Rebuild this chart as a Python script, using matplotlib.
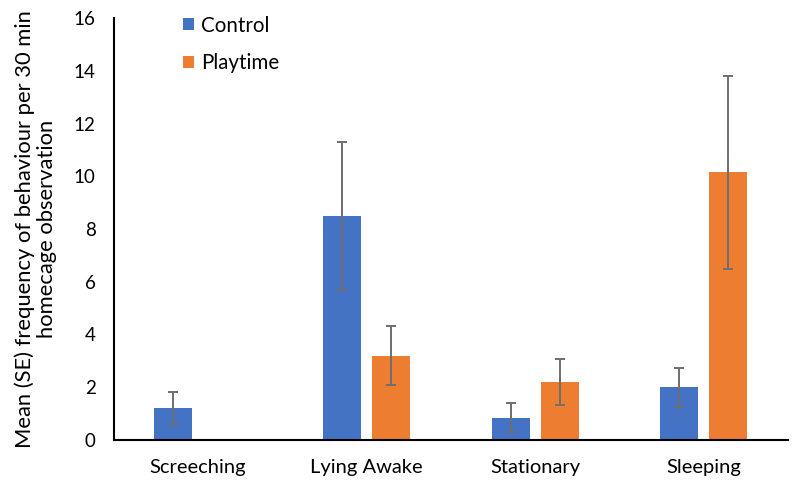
import numpy as np
import matplotlib
matplotlib.use("Agg")
import matplotlib.pyplot as plt

categories = ["Screeching", "Lying Awake", "Stationary", "Sleeping"]
control = [1.2, 8.5, 0.85, 2.0]
control_se = [0.6, 2.82, 0.56, 0.74]
playtime = [0.0, 3.2, 2.2, 10.15]
playtime_se = [np.nan, 1.11, 0.87, 3.65]
yticks = [0, 2, 4, 6, 8, 10, 12, 14, 16]

plt.rcParams['font.family'] = ['Lato', 'DejaVu Sans']

fig = plt.figure(figsize=(8, 4.91), dpi=100)
ax = fig.add_axes([0.142, 0.104, 0.843, 0.859])

x = np.arange(len(categories))
w = 0.225
off = 0.145
ekw = dict(ecolor='#6e6e6e', elinewidth=1.4, capsize=3.5, capthick=1.4)
ax.bar(x - off, control, w, color='#4472C4', label='Control',
       yerr=control_se, error_kw=ekw)
ax.bar(x + off, playtime, w, color='#ED7D31', label='Playtime',
       yerr=playtime_se, error_kw=ekw)

ax.set_xlim(-0.5, len(categories) - 0.5)
ax.set_ylim(0, 16)
ax.set_yticks(yticks)
ax.set_xticks(x)
ax.set_xticklabels(categories, fontsize=14.5)
ax.tick_params(axis='y', labelsize=13.5, length=0, pad=13)
ax.tick_params(axis='x', length=0, pad=14)
for s in ['top', 'right']:
    ax.spines[s].set_visible(False)
for s in ['left', 'bottom']:
    ax.spines[s].set_color('black')
    ax.spines[s].set_linewidth(1.5)

ax.set_ylabel("Mean (SE) frequency of behaviour per 30 min\nhomecage observation",
              fontsize=15.8, labelpad=12, linespacing=1.1)

leg = ax.legend(loc='upper left', bbox_to_anchor=(0.075, 1.05), frameon=False,
                fontsize=14.8, handlelength=0.55, handleheight=0.55,
                handletextpad=0.35, labelspacing=0.85)

fig.savefig("out.png", dpi=100)
